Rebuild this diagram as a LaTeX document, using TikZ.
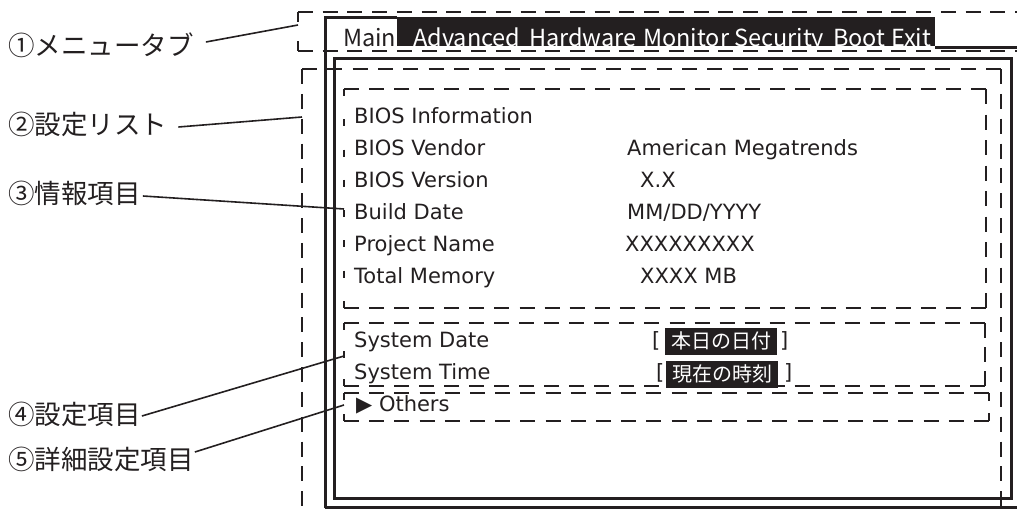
\documentclass[tikz,border=0pt]{standalone}
\usepackage{fontspec}
\setmainfont{DejaVu Sans}
\newfontfamily\jpfont{Noto Sans CJK JP}
\newfontfamily\dvfont{DejaVu Sans}
\definecolor{inkc}{RGB}{35,31,32}
\tikzset{
  frm/.style={draw=inkc, line width=3pt},
  lead/.style={draw=inkc, line width=1.6pt},
  lbl/.style={font=\jpfont\fontsize{26.5}{30}\selectfont, anchor=west, inner sep=0pt, text=inkc},
  item/.style={font=\dvfont\fontsize{21}{24}\selectfont, anchor=base west, inner sep=0pt, text=inkc},
  menu/.style={font=\jpfont\fontsize{23.5}{26}\selectfont, anchor=base west, inner sep=0pt, text=white},
  hl/.style={fill=inkc, text=white, font=\jpfont\fontsize{20}{22}\selectfont, minimum width=112pt, minimum height=27pt, inner sep=0pt},
}
% dashed segment that begins and ends with a dash: x1,y1,x2,y2,dash,gap
\newcommand\dseg[6]{%
  \pgfmathsetmacro\seglen{veclen((#3)-(#1),(#4)-(#2))}%
  \pgfmathsetmacro\segn{max(1,round((\seglen-#5)/(#5+#6)))}%
  \pgfmathsetmacro\seggap{(\seglen-#5-\segn*#5)/\segn}%
  \draw[draw=inkc, line width=2pt, dash pattern=on #5pt off \seggap pt] (#1,#2) -- (#3,#4);%
}
\begin{document}
\begin{tikzpicture}[x=1pt,y=-1pt]
\useasboundingbox (0,0) rectangle (1017,514);
\clip (0,0) rectangle (1017,514);

% solid frames
\fill[inkc] (397,17) rectangle (935,46);
\draw[frm] (325,508) -- (325,17) -- (397,17);
\draw[frm] (325,507) -- (1030,507);
\draw[frm] (935,47) -- (1030,47);
\draw[frm] (334,58) rectangle (1011,498);

% (1) menu tab box
\dseg{298}{12}{1030}{12}{15}{10}
\dseg{298}{51}{1030}{51}{15}{10}
\dseg{298}{12}{298}{51}{10}{18}

% (2) setting list box
\dseg{302}{69}{1001}{69}{15}{10}
\dseg{302}{69}{302}{531}{15}{10}
\dseg{1001}{69}{1001}{531}{15}{10}

% (3) info box
\dseg{344}{89}{986}{89}{15}{10}
\dseg{986}{89}{986}{308}{15}{10}
\dseg{344}{308}{986}{308}{15}{10}
\dseg{344}{89}{344}{308}{7}{25}

% (4) settings box
\dseg{344}{323}{985}{323}{15}{10}
\dseg{985}{323}{985}{386}{15}{10}
\dseg{344}{386}{985}{386}{15}{10}
\dseg{344}{323}{344}{386}{7}{20}

% (5) detail box
\dseg{344}{393}{989}{393}{15}{10}
\dseg{989}{393}{989}{421}{8}{12}
\dseg{344}{421}{989}{421}{15}{10}
\dseg{344}{393}{344}{421}{7}{12}

% menu
\node[menu, text=inkc] (m1) at (343,46) {Main};
\node[menu] (m2) at (413,46) {Advanced};
\node[menu] (m3) at (529,46) {Hardware};
\node[menu] (m4) at (643,46) {Monitor};
\node[menu] (m5) at (734,46) {Security};
\node[menu] (m6) at (833,46) {Boot};
\node[menu] (m7) at (891,46) {Exit};

% info items
\node[item] (i1) at (354,123) {BIOS Information};
\node[item] (i2) at (354,155) {BIOS Vendor};
\node[item] (i3) at (354,187) {BIOS Version};
\node[item] (i4) at (354,219) {Build Date};
\node[item] (i5) at (354,251) {Project Name};
\node[item] (i6) at (354,283) {Total Memory};
\node[item] (v2) at (627,155) {American Megatrends};
\node[item] (v3) at (640,187) {X.X};
\node[item] (v4) at (627,219) {MM/DD/YYYY};
\node[item] (v5) at (625,251) {XXXXXXXXX};
\node[item] (v6) at (640,283) {XXXX MB};

% settings
\node[item] (s1) at (354,347) {System Date};
\node[item] (s2) at (354,379) {System Time};
\node[item] (b1) at (652,347) {[};
\node[hl] (d1) at (721,341) {本日の日付};
\node[item] (b2) at (780,347) {]};
\node[item] (b3) at (656,379) {[};
\node[hl] (t1) at (722,374) {現在の時刻};
\node[item] (b4) at (784,379) {]};
\node[item] (o1) at (356,411) {▶ Others};

% callout labels
\node[lbl] (l1) at (8,45) {①メニュータブ};
\node[lbl] (l2) at (8,124) {②設定リスト};
\node[lbl] (l3) at (8,193) {③情報項目};
\node[lbl] (l4) at (8,414) {④設定項目};
\node[lbl] (l5) at (8,459) {⑤詳細設定項目};

\coordinate (e1) at (298,25);
\coordinate (e2) at (302,117);
\coordinate (e3) at (344,209);
\coordinate (e4) at (344,356);
\coordinate (e5) at (344,405);

\draw[lead] ([xshift=12pt,yshift=3pt]l1.east) -- (e1);
\draw[lead] ([xshift=11pt,yshift=-3pt]l2.east) -- (e2);
\draw[lead] ([xshift=2pt,yshift=-3pt]l3.east) -- (e3);
\draw[lead] ([xshift=1pt,yshift=-2pt]l4.east) -- (e4);
\draw[lead] ([xshift=1pt,yshift=7pt]l5.east) -- (e5);
\end{tikzpicture}
\end{document}
